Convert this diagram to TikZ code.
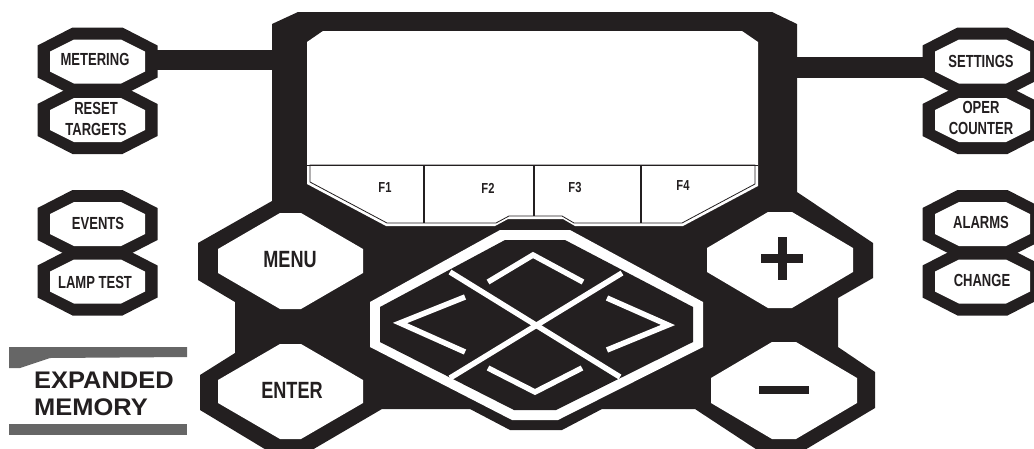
\documentclass[tikz,border=0pt]{standalone}
\usepackage{fontspec}
\setmainfont{Liberation Sans}
\newfontfamily\condfont{Liberation Sans Bold}[FakeStretch=0.745]
\newfontfamily\bigcondfont{Liberation Sans Bold}[FakeStretch=0.77]
\newfontfamily\widefont{Liberation Sans Bold}[FakeStretch=1.06]
\definecolor{ink}{HTML}{231F20}
\definecolor{bargray}{HTML}{666666}
% octagon: centre x, centre y, half width, half height, cut x, cut y
\newcommand{\octa}[6]{({#1-#3},{#2-#4+#6}) -- ({#1-#3+#5},{#2-#4}) -- ({#1+#3-#5},{#2-#4}) -- ({#1+#3},{#2-#4+#6}) -- ({#1+#3},{#2+#4-#6}) -- ({#1+#3-#5},{#2+#4}) -- ({#1-#3+#5},{#2+#4}) -- ({#1-#3},{#2+#4-#6}) -- cycle}
\tikzset{
  small key/.style={font=\condfont\fontsize{17.5}{21.5}\selectfont, text=ink, align=center, inner sep=0pt},
  big key/.style={font=\bigcondfont\fontsize{23.5}{26}\selectfont, text=ink, inner sep=0pt},
  fkey/.style={font=\bigcondfont\fontsize{14.5}{17}\selectfont, text=ink, inner sep=0pt},
  bar/.style={draw=ink, line width=20pt},
  arrowline/.style={draw=white, line width=5.5pt},
}
\begin{document}
\begin{tikzpicture}[x=1pt,y=-1pt]
   \useasboundingbox (0,0) rectangle (1034,448);
   \clip (0,0) rectangle (1034,448);
   \coordinate (metering) at (97.5,61.5);
   \coordinate (reset) at (97.5,120);
   \coordinate (events) at (97.5,224);
   \coordinate (lamp) at (97.5,281.5);
   \coordinate (settings) at (982.5,61.5);
   \coordinate (oper) at (982.5,120);
   \coordinate (alarms) at (982.5,224);
   \coordinate (change) at (982.5,281.5);
   \coordinate (bodyl) at (285,60);
   \coordinate (bodyr) at (785,67.5);
   \draw[bar] (metering |- bodyl) -- (bodyl);
   \draw[bar,line width=21pt] (settings |- bodyr) -- (bodyr);
   \foreach \k in {metering,reset,events,lamp,settings,oper,alarms,change}
      \fill[ink,shift={(\k)}] \octa{0}{0}{60}{34}{35}{18};
   \foreach \k in {metering,reset,events,lamp,settings,oper,alarms,change}
      \fill[white,shift={(\k)}] \octa{0}{0}{47.5}{22}{24}{12};
   \node[small key] (meteringlbl) at (95,59) {METERING};
   \node[small key] (resetlbl) at (96,119) {RESET\\TARGETS};
   \node[small key] (eventslbl) at (98,223) {EVENTS};
   \node[small key] (lamplbl) at (95,282) {LAMP TEST};
   \node[small key] (settingslbl) at (981,61) {SETTINGS};
   \node[small key] (operlbl) at (981,118) {OPER\\COUNTER};
   \node[small key] (alarmslbl) at (981,222) {ALARMS};
   \node[small key] (changelbl) at (982,280) {CHANGE};
   \fill[ink] (272,24) -- (298,12) -- (772,12) -- (797,24) -- (797,192) -- (873,243) -- (873,278) -- (838,298) -- (838,347) -- (875,372) -- (875,408) -- (793,457) -- (768,457) -- (695,409) -- (602,409) -- (562,430) -- (510,430) -- (470,409) -- (382,409) -- (300,457) -- (278,457) -- (200,410) -- (200,375) -- (235,353) -- (235,302) -- (198,280) -- (198,243) -- (272,201) -- cycle;
   \fill[white] (307,42) -- (323,31) -- (742,31) -- (758,42) -- (758,186) -- (683,226) -- (575,226) -- (563,219) -- (508,219) -- (495,226) -- (386,226) -- (307,184) -- cycle;
   \draw[ink,line width=0.8pt] (310,165) -- (310,182) -- (387,223) -- (496,223) -- (509,216) -- (562,216) -- (574,223) -- (682,223) -- (755,184) -- (755,165) -- cycle;
   \draw[ink,line width=0.8pt] (307,165) -- (758,165);
   \draw[ink,line width=1.2pt] (424,165) -- (424,223) (534,165) -- (534,216) (641,165) -- (641,223);
   \node[fkey] (f1) at (385,188) {F1};
   \node[fkey] (f2) at (488,188) {F2};
   \node[fkey] (f3) at (575,188) {F3};
   \node[fkey] (f4) at (683,186) {F4};
   \fill[white] \octa{290.5}{261}{72.5}{48}{62}{36};
   \fill[white] \octa{290.5}{391.5}{72.5}{47.5}{62}{36};
   \fill[white] \octa{780}{260}{73}{48}{61}{36};
   \fill[white] \octa{784}{390.5}{73}{48.5}{61}{36};
   \node[big key] (menu) at (290,260) {MENU};
   \node[big key] (enter) at (292,390) {ENTER};
   \fill[ink] (761,254) rectangle (803,263);
   \fill[ink] (778,237) rectangle (787,280);
   \fill[ink] (759,386) rectangle (809,394);
   \fill[white] (370,302) -- (500,230) -- (570,230) -- (703,302) -- (703,347) -- (558,420) -- (512,420) -- (370,347) -- cycle;
   \fill[ink] (380,307) -- (505,240) -- (565,240) -- (693,307) -- (693,342) -- (556,410) -- (514,410) -- (380,342) -- cycle;
   \draw[arrowline] (450,272) -- (620,377);
   \draw[arrowline] (622,273) -- (450,378);
   \draw[arrowline] (488,282) -- (533,255) -- (583,282);
   \draw[arrowline] (465,297) -- (400,323) -- (465,352);
   \draw[arrowline] (607,298) -- (668,325) -- (607,350);
   \draw[arrowline] (488,368) -- (535,392) -- (582,368);
   \fill[bargray] (9,347) -- (187,347) -- (187,357) -- (50,358) -- (20,368) -- (9,368) -- cycle;
   \fill[bargray] (9,424) rectangle (187,435);
   \node[anchor=base west,inner sep=0pt,text=ink,font=\widefont\fontsize{24}{27}\selectfont] (expanded) at (34,388) {EXPANDED};
   \node[anchor=base west,inner sep=0pt,text=ink,font=\widefont\fontsize{24}{27}\selectfont] (memory) at (34,415) {MEMORY};
\end{tikzpicture}
\end{document}
